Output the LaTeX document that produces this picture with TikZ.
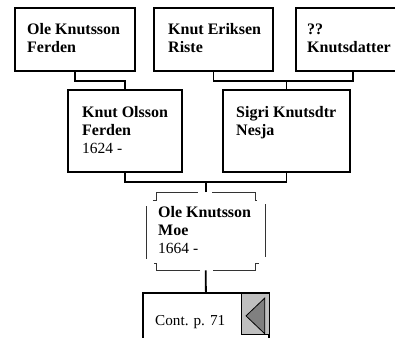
\documentclass[tikz,border=0pt]{standalone}
\usepackage{fontspec}
\setmainfont{Liberation Serif}

\begin{document}
\begin{tikzpicture}[
  x=1pt, y=-1pt,
  person/.style={draw, line width=1.8pt, anchor=north west, inner sep=0, minimum height=63pt},
  tallbox/.style={person, minimum height=82pt},
  txt/.style={anchor=base west, inner sep=0, align=left, font=\fontsize{16}{18}\selectfont\bfseries},
  link/.style={line width=1.8pt},
  unsure/.style={line width=1pt, black!80, dash pattern=on 53pt off 12.67pt, dash phase=59.33pt}
]
  \useasboundingbox (0,0) rectangle (395,337);

  % Grandparents (text nodes sit on their last line)
  \node[person, minimum width=120pt] (olef) at (14,7) {};
  \node[person, minimum width=119pt] (knute) at (153,7) {};
  \node[person, minimum width=114pt] (knutsd) at (295,7) {};
  \node[txt] (olef-t) at ([xshift=13pt,yshift=-45.5pt]olef.north west) {Ole Knutsson\\Ferden};
  \node[txt] (knute-t) at ([xshift=15pt,yshift=-45.5pt]knute.north west) {Knut Eriksen\\Riste};
  \node[txt] (knutsd-t) at ([xshift=12pt,yshift=-45.5pt]knutsd.north west) {??\\Knutsdatter};

  % Parents
  \node[tallbox, minimum width=114pt] (knut) at (67,89) {};
  \node[tallbox, minimum width=127pt] (sigri) at (222,89) {};
  \node[txt] (knut-t) at ([xshift=15pt,yshift=-64pt]knut.north west) {Knut Olsson\\Ferden\\\mdseries\fontsize{15.5}{18}\selectfont 1624 -};
  \node[txt] (sigri-t) at ([xshift=14pt,yshift=-46pt]sigri.north west) {Sigri Knutsdtr\\Nesja};

  % Person
  \node[anchor=north west, inner sep=0, minimum width=119pt, minimum height=78pt] (moe) at (146,192) {};
  \draw[unsure] (moe.north) -- ([xshift=-10pt]moe.north east) -- ([xshift=-10pt,yshift=-8pt]moe.north east)
    -- ([yshift=-8pt]moe.north east) -- ([yshift=7pt]moe.south east) -- ([xshift=-10pt,yshift=7pt]moe.south east)
    -- ([xshift=-10pt]moe.south east) -- ([xshift=10pt]moe.south west) -- ([xshift=10pt,yshift=7pt]moe.south west)
    -- ([yshift=7pt]moe.south west) -- ([yshift=-8pt]moe.north west) -- ([xshift=10pt,yshift=-8pt]moe.north west)
    -- ([xshift=10pt]moe.north west) -- cycle;
  \node[txt] (moe-t) at ([xshift=12pt,yshift=-61pt]moe.north west) {Ole Knutsson\\Moe\\\mdseries\fontsize{15.5}{18}\selectfont 1664 -};

  % Continuation
  \node[person, minimum width=126pt, minimum height=56pt] (cont) at (142,292) {};
  \node[txt, font=\fontsize{15.2}{18}\selectfont] (cont-t) at ([xshift=13pt,yshift=-33.5pt]cont.north west) {Cont. p. 71};
  \node[draw, line width=0.8pt, fill=black!25, anchor=north east, inner sep=0, minimum width=28pt, minimum height=41pt] (back) at ([yshift=-1pt]cont.north east) {};
  \draw[line width=0.8pt, fill=black!50] ([xshift=5pt,yshift=-2pt]back.west) -- ([xshift=-5pt,yshift=-5pt]back.north east)
    -- ([xshift=-5pt,yshift=1pt]back.south east) -- cycle;

  % Lines
  \draw[link] (olef.south) -- ++(0,9) -| (knut.north);
  \draw[link] (knute.south) -- ++(0,9) coordinate (top) -| (knutsd.south);
  \draw[link] (sigri.north) -- (sigri.north |- top);
  \draw[link] (knut.south) -- ++(0,9) coordinate (bot) -| (sigri.south);
  \draw[link] (moe.north) -- (moe.north |- bot);
  \draw[link] (moe.south) -- (cont.north);

\end{tikzpicture}
\end{document}
